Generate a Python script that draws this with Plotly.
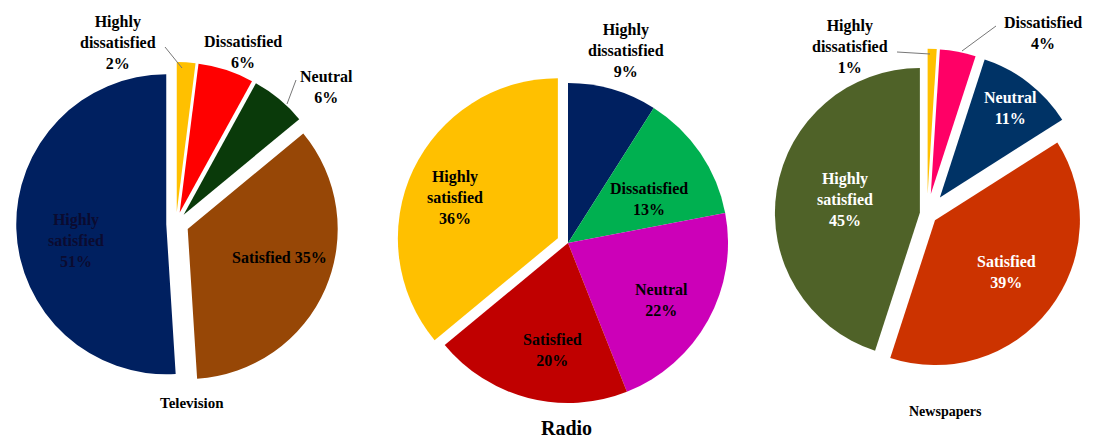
import plotly.graph_objects as go

W, H = 1093, 442

# ---------------- data ----------------
categories = ["Highly dissatisfied", "Dissatisfied", "Neutral", "Satisfied", "Highly satisfied"]
tv_values = [2, 6, 6, 35, 51]
radio_values = [9, 13, 22, 20, 36]
news_values = [1, 4, 11, 39, 45]
titles = ["Television", "Radio", "Newspapers"]

# ---------------- styles ----------------
tv_colors = ["#FFC000", "#FF0000", "#0A3A0A", "#974706", "#002060"]
radio_colors = ["#002060", "#00B050", "#CC00B8", "#C00000", "#FFC000"]
news_colors = ["#FFC000", "#FF0066", "#003366", "#CC3300", "#4F6228"]

FONT = "Liberation Serif, Times New Roman, serif"


def px_x(x):
    return x / W


def px_y(y):
    return 1 - y / H


def clamp(v):
    return max(0.0, min(1.0, v))


def domain(cx, cy, half):
    return dict(x=[clamp((cx - half) / W), clamp((cx + half) / W)],
                y=[clamp(1 - (cy + half) / H), clamp(1 - (cy - half) / H)])


pies = [
    dict(values=tv_values, colors=tv_colors, pull=[0.08, 0.08, 0.08, 0.085, 0.065],
         cx=176, cy=224, r=150),
    dict(values=radio_values, colors=radio_colors, pull=[0, 0, 0, 0, 0.07],
         cx=568, cy=243, r=160),
    dict(values=news_values, colors=news_colors, pull=[0.14, 0.14, 0.145, 0.07, 0.05],
         cx=927, cy=214, r=144.9),
]

fig = go.Figure()
for i, p in enumerate(pies):
    half = p["r"] * (1 + max(p["pull"]))
    fig.add_trace(go.Pie(
        labels=categories, values=p["values"], sort=False, direction="clockwise",
        rotation=0, pull=p["pull"], textinfo="none", showlegend=False,
        marker=dict(colors=p["colors"], line=dict(width=0)),
        domain=domain(p["cx"], p["cy"], half), name=titles[i],
    ))


def label_text(cat, val, one_line=False):
    if one_line:
        return f"<b>{cat} {val}%</b>"
    return "<b>" + cat.replace(" ", "<br>") + f"<br>{val}%</b>"


all_values = [tv_values, radio_values, news_values]

# (pie, slice, x px, y px, color, one_line)
label_specs = [
    (0, 0, 118, 43, "black", False),
    (0, 1, 243, 52, "black", False),
    (0, 2, 326, 87, "black", False),
    (0, 3, 279, 257, "black", True),
    (0, 4, 76, 241, "#0b0b30", False),
    (1, 0, 626, 50, "black", False),
    (1, 1, 649, 199, "black", False),
    (1, 2, 661, 300, "black", False),
    (1, 3, 552, 350, "black", False),
    (1, 4, 455, 198, "black", False),
    (2, 0, 850, 47, "black", False),
    (2, 1, 1043, 33, "black", False),
    (2, 2, 1010, 108, "white", False),
    (2, 3, 1006, 272, "white", False),
    (2, 4, 845, 200, "white", False),
]

annotations = []
for pi, si, x, y, col, one in label_specs:
    annotations.append(dict(
        x=px_x(x), y=px_y(y), xref="paper", yref="paper", showarrow=False,
        text=label_text(categories[si], all_values[pi][si], one),
        font=dict(family=FONT, size=16, color=col), align="center",
        xanchor="center", yanchor="middle"))

title_specs = [(0, 192, 403, 15), (1, 566, 428, 20), (2, 945, 411, 14)]
for ti, x, y, s in title_specs:
    annotations.append(dict(
        x=px_x(x), y=px_y(y), xref="paper", yref="paper", showarrow=False,
        text=f"<b>{titles[ti]}</b>", font=dict(family=FONT, size=s, color="black"),
        xanchor="center", yanchor="middle"))

leaders = [
    (165, 47, 182, 68),
    (296, 80, 287, 104),
    (897, 52, 930, 54),
    (996, 26, 962, 51),
]
shapes = [dict(type="line", xref="paper", yref="paper",
               x0=px_x(a), y0=px_y(b), x1=px_x(c), y1=px_y(d),
               line=dict(color="#777777", width=1)) for a, b, c, d in leaders]

fig.update_layout(
    width=W, height=H, margin=dict(l=0, r=0, t=0, b=0),
    paper_bgcolor="white", plot_bgcolor="white",
    annotations=annotations, shapes=shapes,
)

fig.write_html("out.html", config={"displayModeBar": False},
               post_script="document.body.style.margin='0';")
